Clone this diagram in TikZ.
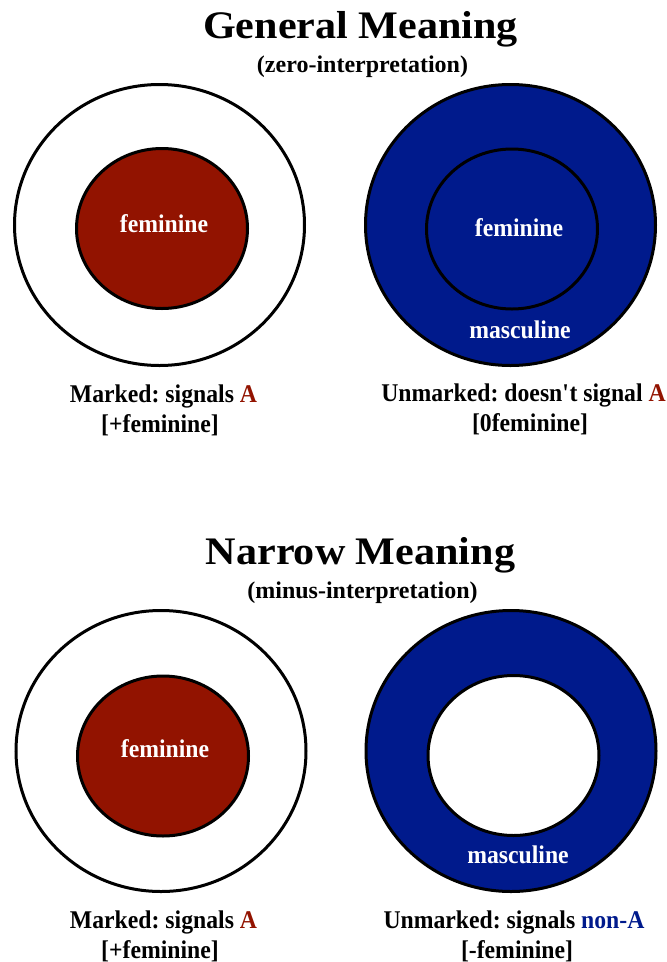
\documentclass[tikz,border=0pt]{standalone}
\usepackage{fontspec}
\setmainfont{Liberation Serif}
\newfontfamily\headfont[FakeStretch=1.08]{Liberation Serif}
\newfontfamily\capfont[FakeStretch=0.93]{Liberation Serif}
\frenchspacing
\usetikzlibrary{shapes.geometric}
\definecolor{markred}{RGB}{146,19,0}
\definecolor{unmarkblue}{RGB}{0,26,140}
\tikzset{>=stealth,
  ring/.style={ellipse, draw, line width=3pt, minimum width=290pt, minimum height=281pt, inner sep=0pt},
  core/.style={ellipse, draw, line width=3pt, minimum width=171pt, minimum height=160pt, inner sep=0pt},
  heading/.style={font=\headfont\bfseries\fontsize{39}{42}\selectfont, anchor=base, inner sep=0pt},
  subheading/.style={font=\bfseries\fontsize{24}{27}\selectfont, anchor=base, inner sep=0pt},
  caption/.style={font=\capfont\bfseries\fontsize{25.5}{28}\selectfont, anchor=base, inner sep=0pt},
  inside/.style={caption, text=white}}

\begin{document}
\begin{tikzpicture}[x=1pt,y=-1pt]
        \useasboundingbox (0,0) rectangle (667,962);
        % general meaning
        \node[heading] (genTitle) at (360.5,38) {General Meaning};
        \node[subheading] (genSub) at (362.5,72) {(zero-interpretation)};
        \node[ring] (genMarkOut) at (159.5,225) {};
        \node[core, fill=markred] (genMarkIn) at (162,228.5) {};
        \node[inside] (genMarkFem) at (164,232) {feminine};
        \node[ring, fill=unmarkblue] (genUnOut) at (510.5,225) {};
        \node[core] (genUnIn) at (512,229) {};
        \node[inside] (genUnFem) at (519,236) {feminine};
        \node[inside] (genUnMasc) at (520,338) {masculine};
        \node[caption] (genMarkCap) at (163.5,402) {Marked: signals \textcolor{markred}{A}};
        \node[caption] (genMarkVal) at (160,432) {[+feminine]};
        \node[caption] (genUnCap) at (523.5,401) {Unmarked: doesn\textquotesingle t signal \textcolor{markred}{A}};
        \node[caption] (genUnVal) at (530,431) {[0feminine]};
        % narrow meaning
        \node[heading] (narTitle) at (360.5,564) {Narrow Meaning};
        \node[subheading] (narSub) at (362.5,598) {(minus-interpretation)};
        \node[ring] (narMarkOut) at (161,751) {};
        \node[core, fill=markred] (narMarkIn) at (163,756) {};
        \node[inside] (narMarkFem) at (165,757) {feminine};
        \node[ring, fill=unmarkblue] (narUnOut) at (511,751) {};
        \node[core, fill=white] (narUnIn) at (513.5,755.5) {};
        \node[inside] (narUnMasc) at (518,863) {masculine};
        \node[caption] (narMarkCap) at (163.5,928) {Marked: signals \textcolor{markred}{A}};
        \node[caption] (narMarkVal) at (160,958) {[+feminine]};
        \node[caption] (narUnCap) at (514,928) {Unmarked: signals \textcolor{unmarkblue}{non-A}};
        \node[caption] (narUnVal) at (517,958) {[-feminine]};
\end{tikzpicture}
\end{document}
